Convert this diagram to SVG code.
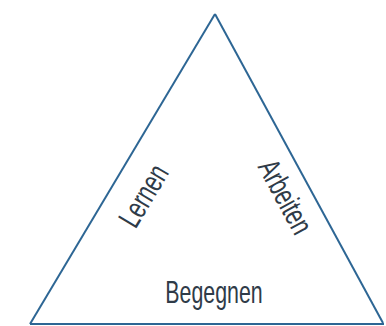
<svg xmlns="http://www.w3.org/2000/svg" width="386" height="326" viewBox="0 0 386 326">
<style>
.edge{fill:none;stroke:#2d6694;stroke-width:2;stroke-linejoin:miter}
.lbl{font-family:"Liberation Sans",Arial,sans-serif;font-size:31px;fill:#2f3b48;text-anchor:middle}
</style>
<rect width="386" height="326" fill="#ffffff"/>
<g id="connectors">
<path class="edge" d="M215,14 L30,324"/>
<path class="edge" d="M215,14 L383,323"/>
<path class="edge" d="M30,324 L384,324"/>
</g>
<g id="lernen"><text class="lbl" transform="translate(144,196) rotate(-59) scale(0.69,1)" y="10">Lernen</text></g>
<g id="arbeiten"><text class="lbl" transform="translate(285,197) rotate(61.5) scale(0.69,1)" y="10">Arbeiten</text></g>
<g id="begegnen"><text class="lbl" transform="translate(214,303) scale(0.69,1)">Begegnen</text></g>
</svg>
